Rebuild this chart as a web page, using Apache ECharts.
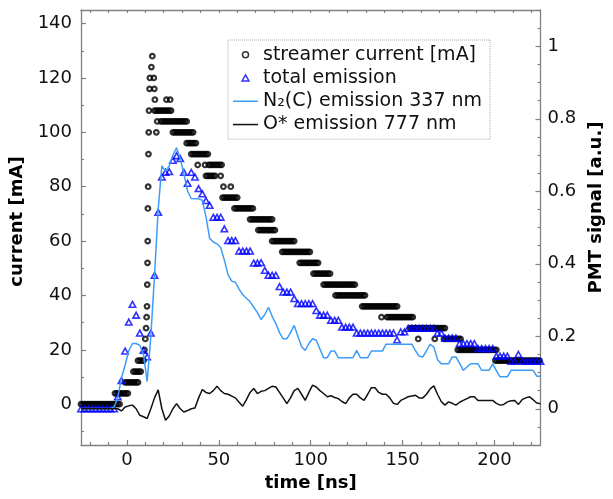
<!DOCTYPE html>
<html>
<head>
<meta charset="utf-8">
<script src="https://cdn.jsdelivr.net/npm/echarts@6.0.0/dist/echarts.min.js"></script>
<style>
  html, body { margin: 0; padding: 0; background: #fff; }
  #chart { width: 613px; height: 499px; }
</style>
</head>
<body>
<div id="chart"></div>
<script>
// Series names shown in the legend
const seriesNames = ['streamer current [mA]', 'total emission', 'N\u2082(C) emission 337 nm', 'O* emission 777 nm'];

// Tick positions
const timeLabelValues = [0, 50, 100, 150, 200];
const timeMinorTicks = [-20, -10, 10, 20, 30, 40, 60, 70, 80, 90, 110, 120, 130, 140, 160, 170, 180, 190, 210, 220];
const timeAllTicks = [-20, -10, 0, 10, 20, 30, 40, 50, 60, 70, 80, 90, 100, 110, 120, 130, 140, 150, 160, 170, 180, 190, 200, 210, 220];
const currentLabelValues = [0, 20, 40, 60, 80, 100, 120, 140];
const currentMinorTicks = [-10, 10, 30, 50, 70, 90, 110, 130];
const pmtLabelValues = [0, 0.2, 0.4, 0.6, 0.8, 1];
const pmtMinorTicks = [-0.05, 0.05, 0.1, 0.15, 0.25, 0.3, 0.35, 0.45, 0.5, 0.55, 0.65, 0.7, 0.75, 0.85, 0.9, 0.95, 1.05];

// Streamer current samples [time ns, current mA] (digitiser steps of 4 mA)
const currentSamples = [
  [-25,0],[-24,0],[-23,0],[-22,0],[-21,0],[-20,0],[-19,0],[-18,0],[-17,0],[-16,0],[-15,0],[-14,0],[-13,0],[-12,0],[-11,0],[-10,0],[-9,0],[-8,0],[-7,0],[-6,0],[-5,0],[-4,0],
  [-6.5,4],[-5.5,4],[-4.5,4],[-3.5,4],[-2.5,4],[-1.5,4],[-0.5,4],[0.5,4],
  [-1,8],[0,8],[1,8],[2,8],[3,8],[4,8],[5,8],[6,8],
  [3.5,12],[4.5,12],[5.5,12],[6.5,12],[7.5,12],
  [6,16],[7,16],[8,16],[9,16],
  [9.5,20],[10,24],[10.4,28],[10.7,32],[10.9,36],[11.05,44],[11.2,52],[11.3,60],[11.4,72],[11.55,80],
  [11.7,92],[11.85,100],[12,108],[12.3,116],[12.5,120],[13.3,124],[13.8,128],[14.6,120],[14.9,116],[15.2,112],
  [15,108],[16,108],[17,108],[18,108],[19,108],[20,108],[21,108],[22,108],[23,108],[24,108],
  [21.5,112],[23.5,112],
  [16.5,104],[18.5,104],[19.5,104],[20.5,104],[21.5,104],[22.5,104],[23.5,104],[24.5,104],[25.5,104],[26.5,104],[27.5,104],[28.5,104],[29.5,104],[30.5,104],[31.5,104],[32.5,104],
  [16,100],[25,100],[26,100],[27,100],[28,100],[29,100],[30,100],[31,100],[32,100],[33,100],[34,100],[35,100],[36,100],
  [32.5,96],[33.5,96],[34.5,96],[35.5,96],[36.5,96],[37.5,96],
  [35,92],[36,92],[37,92],[38,92],[39,92],[40,92],[41,92],[42,92],[43,92],[44,92],
  [38.5,88],[42.5,88],[44.5,88],[45.5,88],[46.5,88],[47.5,88],[48.5,88],[49.5,88],[50.5,88],[51.5,88],
  [43,84],[44,84],[45,84],[46,84],[47,84],[48,84],[51,84],
  [52.5,80],[56.5,80],
  [52,76],[53,76],[54,76],[55,76],[56,76],[57,76],[58,76],[59,76],[60,76],
  [58.5,72],[59.5,72],[60.5,72],[61.5,72],[62.5,72],[63.5,72],[64.5,72],[65.5,72],[66.5,72],[67.5,72],[68.5,72],
  [67,68],[68,68],[69,68],[70,68],[71,68],[72,68],[73,68],[74,68],[75,68],[76,68],[77,68],[78,68],[79,68],
  [71.5,64],[72.5,64],[73.5,64],[74.5,64],[75.5,64],[76.5,64],[77.5,64],[78.5,64],[79.5,64],[80.5,64],
  [79,60],[80,60],[81,60],[82,60],[83,60],[84,60],[85,60],[86,60],[87,60],[88,60],[89,60],[90,60],[91,60],
  [84.5,56],[85.5,56],[86.5,56],[87.5,56],[88.5,56],[89.5,56],[90.5,56],[91.5,56],[92.5,56],[93.5,56],[94.5,56],[95.5,56],[96.5,56],[97.5,56],[98.5,56],[99.5,56],
  [94,52],[95,52],[96,52],[97,52],[98,52],[99,52],[100,52],[101,52],[102,52],[103,52],[104,52],
  [101.5,48],[102.5,48],[103.5,48],[104.5,48],[105.5,48],[106.5,48],[107.5,48],[108.5,48],[109.5,48],[110.5,48],
  [107,44],[108,44],[109,44],[110,44],[111,44],[112,44],[113,44],[114,44],[115,44],[116,44],[117,44],[118,44],[119,44],[120,44],[121,44],[122,44],[123,44],[124,44],
  [113.5,40],[114.5,40],[115.5,40],[116.5,40],[117.5,40],[118.5,40],[119.5,40],[120.5,40],[121.5,40],[122.5,40],[123.5,40],[124.5,40],[125.5,40],[126.5,40],[127.5,40],[128.5,40],[129.5,40],
  [128,36],[129,36],[130,36],[131,36],[132,36],[133,36],[134,36],[135,36],[136,36],[137,36],[138,36],[139,36],[140,36],[141,36],[142,36],[143,36],[144,36],[145,36],[146,36],[147,36],
  [138.5,32],[141.5,32],[142.5,32],[143.5,32],[144.5,32],[145.5,32],[146.5,32],[147.5,32],[148.5,32],[149.5,32],[150.5,32],[151.5,32],[152.5,32],[153.5,32],[154.5,32],[155.5,32],
  [154,28],[155,28],[156,28],[157,28],[158,28],[159,28],[160,28],[161,28],[162,28],[163,28],[164,28],[165,28],[166,28],[167,28],[168,28],[169,28],[170,28],[171,28],[172,28],[173,28],
  [158.5,24],[167.5,24],[172.5,24],[173.5,24],[174.5,24],[175.5,24],[176.5,24],[177.5,24],[178.5,24],[179.5,24],[180.5,24],[181.5,24],
  [180,20],[181,20],[182,20],[183,20],[184,20],[185,20],[186,20],[187,20],[188,20],[189,20],[190,20],[191,20],[192,20],[193,20],[194,20],[195,20],[196,20],[197,20],[198,20],[199,20],[200,20],[201,20],
  [200.5,16],[201.5,16],[202.5,16],[203.5,16],[204.5,16],[205.5,16],[206.5,16],[207.5,16],[208.5,16],[209.5,16],[210.5,16],[211.5,16],[212.5,16],[213.5,16],[214.5,16],[215.5,16],[216.5,16],[217.5,16],[218.5,16],[219.5,16],[220.5,16],[221.5,16],[222.5,16],[223.5,16],[224.5,16]
];

// PMT sampling times (ns), shared by the three optical signals
const pmtTime = [
  -25, -23, -21, -19, -17, -15, -13, -11, -9, -7,
  -5, -3, -1, 1, 3, 5, 7, 9, 11, 13,
  15, 17, 19, 21, 23, 25, 27, 29, 31, 33,
  35, 37, 39, 41, 43, 45, 47, 49, 51, 53,
  55, 57, 59, 61, 63, 65, 67, 69, 71, 73,
  75, 77, 79, 81, 83, 85, 87, 89, 91, 93,
  95, 97, 99, 101, 103, 105, 107, 109, 111, 113,
  115, 117, 119, 121, 123, 125, 127, 129, 131, 133,
  135, 137, 139, 141, 143, 145, 147, 149, 151, 153,
  155, 157, 159, 161, 163, 165, 167, 169, 171, 173,
  175, 177, 179, 181, 183, 185, 187, 189, 191, 193,
  195, 197, 199, 201, 203, 205, 207, 209, 211, 213,
  215, 217, 219, 221, 223, 225
];

// Total emission (PMT signal, a.u.)
const totalEmission = [
  0, 0, 0, 0, 0, 0, 0, 0, 0, 0,
  0.033, 0.078, 0.159, 0.239, 0.288, 0.258, 0.209, 0.161, 0.143, 0.209,
  0.368, 0.542, 0.639, 0.652, 0.654, 0.685, 0.698, 0.69, 0.652, 0.622,
  0.652, 0.639, 0.607, 0.593, 0.574, 0.561, 0.528, 0.528, 0.528, 0.496,
  0.464, 0.464, 0.464, 0.435, 0.435, 0.435, 0.435, 0.402, 0.402, 0.403,
  0.382, 0.368, 0.368, 0.368, 0.337, 0.322, 0.322, 0.322, 0.304, 0.29,
  0.29, 0.29, 0.29, 0.29, 0.271, 0.258, 0.258, 0.258, 0.244, 0.244,
  0.244, 0.225, 0.225, 0.225, 0.225, 0.209, 0.209, 0.209, 0.209, 0.209,
  0.209, 0.209, 0.209, 0.209, 0.209, 0.209, 0.19, 0.212, 0.212, 0.222,
  0.222, 0.222, 0.222, 0.222, 0.222, 0.222, 0.222, 0.209, 0.209, 0.195,
  0.195, 0.195, 0.195, 0.18, 0.18, 0.18, 0.18, 0.18, 0.166, 0.166,
  0.166, 0.166, 0.166, 0.145, 0.145, 0.145, 0.145, 0.131, 0.131, 0.15,
  0.131, 0.131, 0.131, 0.131, 0.131, 0.131
];

// N2(C) emission at 337 nm (PMT signal, a.u.)
const n2Emission = [
  0, 0, 0, 0, 0, 0, 0, 0, 0, 0.005,
  0.03, 0.085, 0.12, 0.16, 0.18, 0.18, 0.175, 0.15, 0.075, 0.2,
  0.368, 0.55, 0.67, 0.655, 0.67, 0.7, 0.72, 0.69, 0.648, 0.6,
  0.58, 0.579, 0.579, 0.575, 0.53, 0.47, 0.46, 0.455, 0.445, 0.41,
  0.37, 0.352, 0.349, 0.33, 0.315, 0.305, 0.295, 0.28, 0.265, 0.246,
  0.26, 0.28, 0.255, 0.235, 0.21, 0.193, 0.193, 0.21, 0.23, 0.2,
  0.172, 0.161, 0.18, 0.193, 0.189, 0.165, 0.141, 0.141, 0.159, 0.159,
  0.141, 0.141, 0.141, 0.141, 0.141, 0.161, 0.141, 0.141, 0.141, 0.159,
  0.159, 0.159, 0.159, 0.178, 0.178, 0.178, 0.178, 0.178, 0.178, 0.178,
  0.178, 0.16, 0.145, 0.143, 0.16, 0.178, 0.17, 0.135, 0.124, 0.124,
  0.124, 0.143, 0.143, 0.125, 0.106, 0.115, 0.124, 0.124, 0.124, 0.106,
  0.106, 0.106, 0.124, 0.105, 0.088, 0.088, 0.088, 0.106, 0.106, 0.106,
  0.106, 0.106, 0.106, 0.106, 0.09, 0.09
];

// O* emission at 777 nm (PMT signal, a.u.)
const oEmission = [
  0, 0, 0, 0, 0, 0, 0, 0, 0, 0,
  0, -0.006, 0.005, 0.008, 0.01, 0, -0.018, -0.022, -0.027, 0,
  0.03, 0.052, 0, -0.032, -0.02, 0, 0.014, 0, -0.009, -0.005,
  0, 0.002, 0.03, 0.053, 0.045, 0.042, 0.05, 0.062, 0.05, 0.042,
  0.04, 0.035, 0.03, 0.018, 0.007, 0.025, 0.045, 0.056, 0.042, 0.048,
  0.05, 0.056, 0.062, 0.06, 0.045, 0.03, 0.014, 0.03, 0.05, 0.056,
  0.04, 0.023, 0.045, 0.065, 0.06, 0.05, 0.042, 0.033, 0.036, 0.031,
  0.028, 0.02, 0.014, 0.03, 0.04, 0.04, 0.03, 0.023, 0.04, 0.058,
  0.058, 0.045, 0.04, 0.04, 0.03, 0.015, 0.012, 0.023, 0.028, 0.033,
  0.035, 0.037, 0.03, 0.03, 0.04, 0.055, 0.063, 0.04, 0.02, 0.01,
  0.019, 0.015, 0.01, 0.018, 0.023, 0.028, 0.033, 0.033, 0.023, 0.023,
  0.023, 0.023, 0.023, 0.015, 0.01, 0.012, 0.019, 0.022, 0.023, 0.012,
  0.025, 0.03, 0.033, 0.025, 0.016, 0.014
];

const FONT = 'DejaVu Sans';
const AXIS_GRAY = '#808080';
const BLUE = '#0000ff';
const LIGHT_BLUE = '#3d9cf8';
const LINE_ICON = 'path://M0 0H50V3H0Z';
const TRIANGLE_ICON = 'path://M4 0L8 7L0 7Z';

const pair = (ys) => pmtTime.map((t, i) => [t, ys[i]]);

const tickStyle = { color: AXIS_GRAY, width: 1.2 };
const frameLine = { show: true, onZero: false, lineStyle: { color: AXIS_GRAY, width: 1.3 } };
const hiddenLine = { show: false, onZero: false };
const labelStyle = { fontFamily: FONT, fontSize: 18, color: '#111' };
const nameStyle = { fontFamily: FONT, fontSize: 18, fontWeight: 'bold', color: '#000' };

const chart = echarts.init(document.getElementById('chart'), null, { renderer: 'canvas' });

chart.setOption({
  animation: false,
  backgroundColor: '#fff',
  grid: { left: 81, top: 10, width: 467, height: 435, containLabel: false },
  legend: {
    orient: 'vertical',
    left: 228,
    top: 40,
    padding: [3, 8, 3, 5],
    itemWidth: 25,
    itemHeight: 6,
    itemGap: 0,
    borderColor: '#aaa',
    borderWidth: 1,
    borderType: 'dotted',
    backgroundColor: '#fff',
    textStyle: { fontFamily: FONT, fontSize: 19, color: '#111', lineHeight: 23.3 },
    data: [
      { name: seriesNames[0], icon: 'circle', itemStyle: { color: 'rgba(0,0,0,0)', borderColor: '#000', borderWidth: 1.5 } },
      { name: seriesNames[1], icon: TRIANGLE_ICON, itemStyle: { color: 'rgba(0,0,0,0)', borderColor: BLUE, borderWidth: 1.5 } },
      { name: seriesNames[2], icon: LINE_ICON, itemStyle: { color: LIGHT_BLUE, borderWidth: 0 } },
      { name: seriesNames[3], icon: LINE_ICON, itemStyle: { color: '#111', borderWidth: 0 } }
    ]
  },
  xAxis: [
    {
      type: 'value', position: 'bottom', min: -25, max: 225,
      axisLine: frameLine,
      axisTick: { show: true, inside: true, length: 5, lineStyle: tickStyle, customValues: timeLabelValues },
      axisLabel: { show: true, margin: 6, customValues: timeLabelValues, ...labelStyle },
      splitLine: { show: false },
      name: 'time [ns]', nameLocation: 'middle', nameGap: 25, nameTextStyle: nameStyle
    },
    {
      type: 'value', position: 'bottom', min: -25, max: 225,
      axisLine: hiddenLine,
      axisTick: { show: true, inside: true, length: 3, lineStyle: tickStyle, customValues: timeMinorTicks },
      axisLabel: { show: false },
      splitLine: { show: false }
    },
    {
      type: 'value', position: 'top', min: -25, max: 225,
      axisLine: frameLine,
      axisTick: { show: true, inside: true, length: 3, lineStyle: tickStyle, customValues: timeAllTicks },
      axisLabel: { show: false },
      splitLine: { show: false }
    }
  ],
  yAxis: [
    {
      type: 'value', position: 'left', min: -15, max: 145,
      axisLine: frameLine,
      axisTick: { show: true, inside: true, length: 5, lineStyle: tickStyle, customValues: currentLabelValues },
      axisLabel: { show: true, margin: 9, customValues: currentLabelValues, ...labelStyle },
      splitLine: { show: false },
      name: 'current [mA]', nameLocation: 'middle', nameRotate: 90, nameGap: 53,
      nameTextStyle: { ...nameStyle, padding: [0, 0, 0, 12] }
    },
    {
      type: 'value', position: 'right', min: -0.1, max: 1.1,
      axisLine: frameLine,
      axisTick: { show: true, inside: true, length: 5, lineStyle: tickStyle, customValues: pmtLabelValues },
      axisLabel: { show: true, margin: 7, customValues: pmtLabelValues, ...labelStyle },
      splitLine: { show: false },
      name: 'PMT signal [a.u.]', nameLocation: 'middle', nameRotate: 90, nameGap: 45,
      nameTextStyle: { ...nameStyle, padding: [0, 0, 0, 40] }
    },
    {
      type: 'value', position: 'left', min: -15, max: 145,
      axisLine: hiddenLine,
      axisTick: { show: true, inside: true, length: 3, lineStyle: tickStyle, customValues: currentMinorTicks },
      axisLabel: { show: false },
      splitLine: { show: false }
    },
    {
      type: 'value', position: 'right', min: -0.1, max: 1.1,
      axisLine: hiddenLine,
      axisTick: { show: true, inside: true, length: 3, lineStyle: tickStyle, customValues: pmtMinorTicks },
      axisLabel: { show: false },
      splitLine: { show: false }
    }
  ],
  series: [
    {
      name: seriesNames[0], type: 'scatter', xAxisIndex: 0, yAxisIndex: 0,
      symbol: 'circle', symbolSize: 4.6,
      itemStyle: { color: 'rgba(0,0,0,0)', borderColor: '#000', borderWidth: 2.2 },
      data: currentSamples, z: 2
    },
    {
      name: seriesNames[1], type: 'scatter', xAxisIndex: 0, yAxisIndex: 1,
      symbol: 'triangle', symbolSize: [6.4, 5.8],
      itemStyle: { color: 'rgba(0,0,0,0)', borderColor: BLUE, borderWidth: 1.6 },
      data: pair(totalEmission), z: 3
    },
    {
      name: seriesNames[2], type: 'line', xAxisIndex: 0, yAxisIndex: 1,
      symbol: 'none', showSymbol: false,
      lineStyle: { color: LIGHT_BLUE, width: 1.5 }, itemStyle: { color: LIGHT_BLUE },
      data: pair(n2Emission), z: 4
    },
    {
      name: seriesNames[3], type: 'line', xAxisIndex: 0, yAxisIndex: 1,
      symbol: 'none', showSymbol: false,
      lineStyle: { color: '#111', width: 1.5 }, itemStyle: { color: '#111' },
      data: pair(oEmission), z: 4
    }
  ]
});
</script>
</body>
</html>
